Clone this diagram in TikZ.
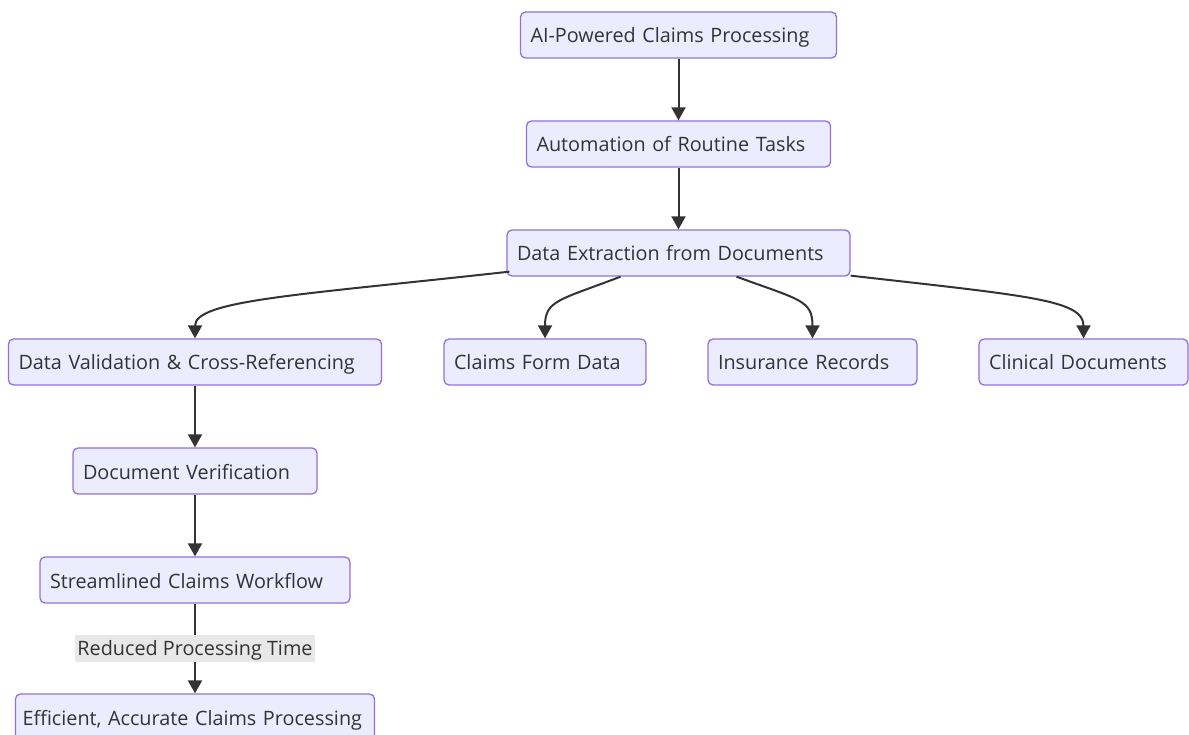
\documentclass[tikz,border=0pt]{standalone}
\usepackage{fontspec}
\setmainfont{Open Sans}
\usetikzlibrary{arrows.meta}
\definecolor{boxfill}{HTML}{ECECFF}
\definecolor{boxline}{HTML}{9370DB}
\definecolor{inkgray}{HTML}{333333}
\definecolor{lblfill}{HTML}{E8E8E8}
\begin{document}
\begin{tikzpicture}[x=1pt,y=-1pt,
    procbox/.style ={draw=boxline, fill=boxfill, line width=1.3pt, rounded corners=5pt,
      minimum height=46pt, inner xsep=10pt, align=left, text width=#1, text=inkgray,
      font=\fontsize{19.8}{24}\selectfont, execute at begin node={\rule[-5pt]{0pt}{26pt}}},
    edgelbl/.style ={fill=lblfill, inner sep=2pt, text=inkgray, font=\fontsize{19.8}{24}\selectfont,
      execute at begin node={\rule[-5pt]{0pt}{23pt}}},
    flow/.style ={draw=inkgray, line width=2pt, -{Triangle[width=14pt,length=13pt]}}]
   \useasboundingbox (0,0) rectangle (1189,735);
   \node[procbox=296pt] (A) at (678.5,35)  {AI-Powered Claims Processing};
   \node[procbox=284pt] (B) at (678.5,144) {Automation of Routine Tasks};
   \node[procbox=323pt] (C) at (678.5,253) {Data Extraction from Documents};
   \node[procbox=353pt] (D) at (195,362)   {Data Validation \& Cross-Referencing};
   \node[procbox=182pt] (E) at (545,362)   {Claims Form Data};
   \node[procbox=189pt] (F) at (812.5,362) {Insurance Records};
   \node[procbox=189pt] (G) at (1083.5,362) {Clinical Documents};
   \node[procbox=224pt] (H) at (195,471)   {Document Verification};
   \node[procbox=290pt] (I) at (195,580)   {Streamlined Claims Workflow};
   \node[procbox=345pt, inner xsep=7pt] (J) at (195,717) {Efficient, Accurate Claims Processing};
   \draw[flow] (A) to (B);
   \draw[flow] (B) to (C);
   \draw[flow] ([xshift=3pt,yshift=5pt]C.south west) .. controls (300,295) and (195,300) .. (D.north);
   \draw[flow] ([xshift=-58pt]C.south) .. controls (560,300) and (545,300) .. (E.north);
   \draw[flow] ([xshift=58pt]C.south) .. controls (800,300) and (812.5,300) .. (F.north);
   \draw[flow] ([yshift=1pt]C.south east) .. controls (1030,296) and (1083.5,300) .. (G.north);
   \draw[flow] (D) to (H);
   \draw[flow] (H) to (I);
   \draw[flow] (I) to node[edgelbl] (lbl) {Reduced Processing Time} (J);
 \end{tikzpicture}
\end{document}
